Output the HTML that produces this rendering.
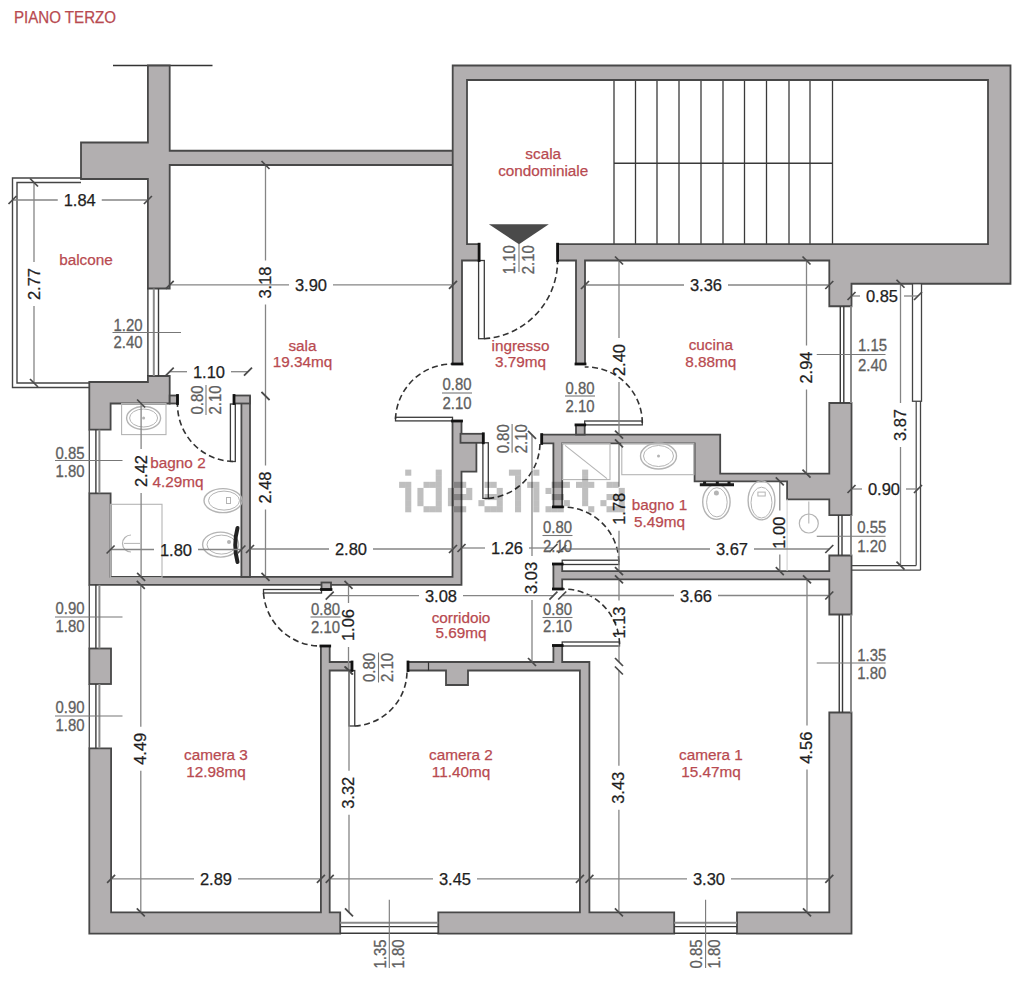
<!DOCTYPE html>
<html><head><meta charset="utf-8"><style>
html,body{margin:0;padding:0;background:#fff;width:1024px;height:982px;overflow:hidden;position:relative}
svg text{font-family:"Liberation Sans",sans-serif}
</style></head><body>
<svg width="1024" height="982" viewBox="0 0 1024 982" style="position:absolute;left:0;top:0">
<rect width="1024" height="982" fill="#fff"/>
<line x1="614" y1="80" x2="614" y2="244.2" stroke="#3a3a3a" stroke-width="1.3" />
<line x1="635.5" y1="80" x2="635.5" y2="244.2" stroke="#3a3a3a" stroke-width="1.3" />
<line x1="657" y1="80" x2="657" y2="244.2" stroke="#3a3a3a" stroke-width="1.3" />
<line x1="679" y1="80" x2="679" y2="244.2" stroke="#3a3a3a" stroke-width="1.3" />
<line x1="701" y1="80" x2="701" y2="244.2" stroke="#3a3a3a" stroke-width="1.3" />
<line x1="723" y1="80" x2="723" y2="244.2" stroke="#3a3a3a" stroke-width="1.3" />
<line x1="744.5" y1="80" x2="744.5" y2="244.2" stroke="#3a3a3a" stroke-width="1.3" />
<line x1="766.5" y1="80" x2="766.5" y2="244.2" stroke="#3a3a3a" stroke-width="1.3" />
<line x1="789" y1="80" x2="789" y2="244.2" stroke="#3a3a3a" stroke-width="1.3" />
<line x1="810" y1="80" x2="810" y2="244.2" stroke="#3a3a3a" stroke-width="1.3" />
<line x1="832.5" y1="80" x2="832.5" y2="244.2" stroke="#3a3a3a" stroke-width="1.3" />
<line x1="614" y1="163.25" x2="832.5" y2="163.25" stroke="#3a3a3a" stroke-width="1.3" />
<line x1="113" y1="65.5" x2="212.5" y2="65.5" stroke="#333" stroke-width="1.6" />
<polygon points="147.9,65.5 169.7,65.5 169.7,150.75 453,150.75 453,165 169.7,165 169.7,288.5 147.9,288.5 147.9,179 81,179 81,142.5 147.9,142.5" fill="#b2afb0" stroke="#484848" stroke-width="1.8" stroke-linejoin="miter"/>
<polygon points="452.7,65.5 1010.5,65.5 1010.5,283.75 851.5,283.75 851.5,306.25 829.3,306.25 829.3,260.5 585,260.5 585,364 576,364 576,260.5 557.6,260.5 557.6,244.2 988,244.2 988,80 467,80 467,244.2 479.1,244.2 479.1,260.5 462,260.5 462,364 452.7,364" fill="#b2afb0" stroke="#484848" stroke-width="1.8" stroke-linejoin="miter"/>
<polygon points="89.3,382 147.9,382 147.9,376 169.7,376 169.7,403.5 110.6,403.5 110.6,429.7 89.3,429.7" fill="#b2afb0" stroke="#484848" stroke-width="1.8" stroke-linejoin="miter"/>
<rect x="169.7" y="395.5" width="7.80" height="8.00" fill="#b2afb0" stroke="#484848" stroke-width="1.8"/>
<polygon points="452.5,421 461.5,421 461.5,441.8 476.4,441.8 476.4,471.6 461.5,471.6 461.5,584.8 89.3,584.8 89.3,493.3 110.6,493.3 110.6,576.9 452.5,576.9" fill="#b2afb0" stroke="#484848" stroke-width="1.8" stroke-linejoin="miter"/>
<rect x="241.4" y="396.7" width="8.60" height="180.20" fill="#b2afb0" stroke="#484848" stroke-width="1.8"/>
<rect x="234" y="395.5" width="16.00" height="8.00" fill="#b2afb0" stroke="#484848" stroke-width="1.8"/>
<rect x="460.5" y="433.8" width="22.80" height="9.00" fill="#b2afb0" stroke="#484848" stroke-width="1.8"/>
<polygon points="541.7,434.6 720.2,434.6 720.2,473.6 829.3,473.6 829.3,403 851.5,403 851.5,515.2 829.3,515.2 829.3,499.3 787.1,499.3 787.1,481.3 694.6,481.3 694.6,443.4 562.2,443.4 562.2,506.9 553.4,506.9 553.4,443.4 541.7,443.4" fill="#b2afb0" stroke="#484848" stroke-width="1.8" stroke-linejoin="miter"/>
<rect x="576" y="424.9" width="8.70" height="9.70" fill="#b2afb0" stroke="#484848" stroke-width="1.8"/>
<polygon points="553.4,564 562.2,564 562.2,571.1 829.3,571.1 829.3,555.5 851.5,555.5 851.5,614.5 829.3,614.5 829.3,579.4 562.2,579.4 562.2,589 553.4,589" fill="#b2afb0" stroke="#484848" stroke-width="1.8" stroke-linejoin="miter"/>
<polygon points="408,662 553.4,662 553.4,645.5 562.2,645.5 562.2,662 589.4,662 589.4,912.3 674.2,912.3 674.2,933.6 438.3,933.6 438.3,912.3 579.9,912.3 579.9,670.5 468,670.5 468,685 446,685 446,670.5 408,670.5" fill="#b2afb0" stroke="#484848" stroke-width="1.8" stroke-linejoin="miter"/>
<line x1="428.5" y1="662" x2="428.5" y2="670.5" stroke="#333" stroke-width="1.2" />
<rect x="321.5" y="582.5" width="9.50" height="7.00" fill="#b2afb0" stroke="#484848" stroke-width="1.8"/>
<polygon points="89.3,748.3 111.1,748.3 111.1,912.3 320.9,912.3 320.9,646 329.7,646 329.7,662 352,662 352,670.5 329.7,670.5 329.7,912.3 340.2,912.3 340.2,933.6 89.3,933.6" fill="#b2afb0" stroke="#484848" stroke-width="1.8" stroke-linejoin="miter"/>
<rect x="89.3" y="648.5" width="21.70" height="35.50" fill="#b2afb0" stroke="#484848" stroke-width="1.8"/>
<polygon points="829.3,712.5 851.5,712.5 851.5,933.6 737,933.6 737,912.3 829.3,912.3" fill="#b2afb0" stroke="#484848" stroke-width="1.8" stroke-linejoin="miter"/>
<line x1="147.9" y1="288.5" x2="147.9" y2="376" stroke="#3a3a3a" stroke-width="1.4" />
<line x1="153.8" y1="288.5" x2="153.8" y2="376" stroke="#8a8a8a" stroke-width="2.0" />
<line x1="158.5" y1="288.5" x2="158.5" y2="376" stroke="#3a3a3a" stroke-width="1.4" />
<line x1="89.3" y1="429.7" x2="89.3" y2="493.3" stroke="#555" stroke-width="1.4" />
<line x1="95.9" y1="429.7" x2="95.9" y2="493.3" stroke="#3a3a3a" stroke-width="1.4" />
<line x1="99.4" y1="429.7" x2="99.4" y2="493.3" stroke="#8a8a8a" stroke-width="2.0" />
<line x1="89.3" y1="584.8" x2="89.3" y2="648.5" stroke="#555" stroke-width="1.4" />
<line x1="95.9" y1="584.8" x2="95.9" y2="648.5" stroke="#3a3a3a" stroke-width="1.4" />
<line x1="99.4" y1="584.8" x2="99.4" y2="648.5" stroke="#8a8a8a" stroke-width="2.0" />
<line x1="89.3" y1="684" x2="89.3" y2="748.3" stroke="#555" stroke-width="1.4" />
<line x1="95.9" y1="684" x2="95.9" y2="748.3" stroke="#3a3a3a" stroke-width="1.4" />
<line x1="99.4" y1="684" x2="99.4" y2="748.3" stroke="#8a8a8a" stroke-width="2.0" />
<line x1="851" y1="306.25" x2="851" y2="403" stroke="#8a8a8a" stroke-width="2.0" />
<line x1="843.8" y1="306.25" x2="843.8" y2="403" stroke="#3a3a3a" stroke-width="1.4" />
<line x1="840.3" y1="306.25" x2="840.3" y2="403" stroke="#3a3a3a" stroke-width="1.4" />
<line x1="851" y1="515.2" x2="851" y2="555.5" stroke="#8a8a8a" stroke-width="2.0" />
<line x1="842" y1="515.2" x2="842" y2="555.5" stroke="#3a3a3a" stroke-width="1.4" />
<line x1="838.5" y1="515.2" x2="838.5" y2="555.5" stroke="#3a3a3a" stroke-width="1.4" />
<line x1="851" y1="614.5" x2="851" y2="712.5" stroke="#8a8a8a" stroke-width="2.0" />
<line x1="842.5" y1="614.5" x2="842.5" y2="712.5" stroke="#3a3a3a" stroke-width="1.4" />
<line x1="839.25" y1="614.5" x2="839.25" y2="712.5" stroke="#3a3a3a" stroke-width="1.4" />
<line x1="340.2" y1="933.3" x2="438.3" y2="933.3" stroke="#3a3a3a" stroke-width="1.4" />
<line x1="340.2" y1="926.6" x2="438.3" y2="926.6" stroke="#3a3a3a" stroke-width="1.4" />
<line x1="340.2" y1="922.8" x2="438.3" y2="922.8" stroke="#8a8a8a" stroke-width="2.0" />
<line x1="674.2" y1="933.3" x2="737" y2="933.3" stroke="#3a3a3a" stroke-width="1.4" />
<line x1="674.2" y1="926.6" x2="737" y2="926.6" stroke="#3a3a3a" stroke-width="1.4" />
<line x1="674.2" y1="922.8" x2="737" y2="922.8" stroke="#8a8a8a" stroke-width="2.0" />
<polyline points="81,178 12.5,178 12.5,387.5 89.3,387.5" fill="none" stroke="#444" stroke-width="1.4"/>
<polyline points="81,182.5 17,182.5 17,383 89.3,383" fill="none" stroke="#444" stroke-width="1.4"/>
<rect x="912.5" y="283.75" width="9.00" height="117.50" fill="#fff" stroke="#444" stroke-width="1.3"/>
<line x1="916.2" y1="401.25" x2="916.2" y2="565.6" stroke="#444" stroke-width="1.2" />
<line x1="920.5" y1="401.25" x2="920.5" y2="570.2" stroke="#444" stroke-width="1.3" />
<line x1="851.5" y1="565.6" x2="916.2" y2="565.6" stroke="#444" stroke-width="1.2" />
<line x1="851.5" y1="570.2" x2="920.5" y2="570.2" stroke="#444" stroke-width="1.3" />
<polygon points="488.9,224.3 548.8,224.3 519,244.2" fill="#4a4a4a"/>
<rect x="478.6" y="260.5" width="5.70" height="78.20" fill="#fff" stroke="#3a3a3a" stroke-width="1.3"/>
<path d="M484.3,338.7 A78.5,78.5 0 0 0 557.6,260.5" fill="none" stroke="#333" stroke-width="1.6" stroke-dasharray="6,3.5"/>
<rect x="395.5" y="417.3" width="57.00" height="3.60" fill="#fff" stroke="#3a3a3a" stroke-width="1.3"/>
<path d="M395.5,419 A57,57 0 0 1 452.5,364" fill="none" stroke="#333" stroke-width="1.6" stroke-dasharray="6,3.5"/>
<rect x="584.7" y="421" width="57.60" height="3.90" fill="#fff" stroke="#3a3a3a" stroke-width="1.3"/>
<path d="M642.3,423 A56,56 0 0 0 584.7,367" fill="none" stroke="#333" stroke-width="1.6" stroke-dasharray="6,3.5"/>
<rect x="482.9" y="442.8" width="5.40" height="55.60" fill="#fff" stroke="#3a3a3a" stroke-width="1.3"/>
<path d="M488.3,498.4 A56,56 0 0 0 540,442.8" fill="none" stroke="#333" stroke-width="1.6" stroke-dasharray="6,3.5"/>
<rect x="230.4" y="404" width="4.90" height="57.50" fill="#fff" stroke="#3a3a3a" stroke-width="1.3"/>
<path d="M233,461.5 A57,57 0 0 1 177.5,404" fill="none" stroke="#333" stroke-width="1.6" stroke-dasharray="6,3.5"/>
<rect x="562.2" y="560.2" width="56.70" height="4.30" fill="#fff" stroke="#3a3a3a" stroke-width="1.3"/>
<path d="M618.9,562 A56,56 0 0 0 562.2,507" fill="none" stroke="#333" stroke-width="1.6" stroke-dasharray="6,3.5"/>
<rect x="562.2" y="642" width="57.30" height="4.00" fill="#fff" stroke="#3a3a3a" stroke-width="1.3"/>
<path d="M619.5,644 A56,56 0 0 0 562.2,589" fill="none" stroke="#333" stroke-width="1.6" stroke-dasharray="6,3.5"/>
<rect x="263.5" y="589.5" width="58.00" height="3.50" fill="#fff" stroke="#3a3a3a" stroke-width="1.3"/>
<path d="M263.5,593 A57,57 0 0 0 321.5,646" fill="none" stroke="#333" stroke-width="1.6" stroke-dasharray="6,3.5"/>
<rect x="349" y="670.5" width="5.75" height="55.50" fill="#fff" stroke="#3a3a3a" stroke-width="1.3"/>
<path d="M354.75,726 A55,55 0 0 0 407,670.5" fill="none" stroke="#333" stroke-width="1.6" stroke-dasharray="6,3.5"/>
<path d="M479.1,244.2 L479.1,260.5" stroke="#111" stroke-width="2.8" stroke-linecap="square"/>
<path d="M557.6,244.2 L557.6,260.5" stroke="#111" stroke-width="2.8" stroke-linecap="square"/>
<path d="M452.7,364 L462,364" stroke="#111" stroke-width="2.8" stroke-linecap="square"/>
<path d="M452.5,421 L461.5,421" stroke="#111" stroke-width="2.8" stroke-linecap="square"/>
<path d="M576,364 L585,364" stroke="#111" stroke-width="2.8" stroke-linecap="square"/>
<path d="M576,424.9 L584.7,424.9" stroke="#111" stroke-width="2.8" stroke-linecap="square"/>
<path d="M483.3,433.8 L483.3,442.8" stroke="#111" stroke-width="2.8" stroke-linecap="square"/>
<path d="M541.7,434.6 L541.7,443.4" stroke="#111" stroke-width="2.8" stroke-linecap="square"/>
<path d="M177.5,395.5 L177.5,403.5" stroke="#111" stroke-width="2.8" stroke-linecap="square"/>
<path d="M234,395.5 L234,403.5" stroke="#111" stroke-width="2.8" stroke-linecap="square"/>
<path d="M553.4,506.9 L562.2,506.9" stroke="#111" stroke-width="2.8" stroke-linecap="square"/>
<path d="M553.4,564 L562.2,564" stroke="#111" stroke-width="2.8" stroke-linecap="square"/>
<path d="M553.4,589 L562.2,589" stroke="#111" stroke-width="2.8" stroke-linecap="square"/>
<path d="M553.4,645.5 L562.2,645.5" stroke="#111" stroke-width="2.8" stroke-linecap="square"/>
<path d="M321.5,589.5 L331,589.5" stroke="#111" stroke-width="2.8" stroke-linecap="square"/>
<path d="M320.9,646 L329.7,646" stroke="#111" stroke-width="2.8" stroke-linecap="square"/>
<path d="M352,662 L352,670.5" stroke="#111" stroke-width="2.8" stroke-linecap="square"/>
<path d="M408,662 L408,670.5" stroke="#111" stroke-width="2.8" stroke-linecap="square"/>
<rect x="121.6" y="403.5" width="44.40" height="31.10" fill="none" stroke="#b4b4b4" stroke-width="1.1"/>
<ellipse cx="143.6" cy="418" rx="17" ry="11.5" fill="none" stroke="#b4b4b4" stroke-width="1.4"/>
<ellipse cx="143.6" cy="418" rx="14" ry="9" fill="none" stroke="#b4b4b4" stroke-width="1.0"/>
<circle cx="143.6" cy="418" r="1.5" fill="#b4b4b4"/>
<rect x="110.6" y="504.3" width="51.40" height="73.40" fill="none" stroke="#b4b4b4" stroke-width="1.1"/>
<path d="M131,535 A8.5,8.5 0 1 0 131,552" fill="none" stroke="#b4b4b4" stroke-width="1.2"/>
<line x1="124" y1="543.4" x2="140" y2="543.4" stroke="#b4b4b4" stroke-width="1.0" />
<ellipse cx="223" cy="500.6" rx="19" ry="12" fill="none" stroke="#b4b4b4" stroke-width="1.4"/>
<ellipse cx="224" cy="500.6" rx="15.5" ry="9.5" fill="none" stroke="#b4b4b4" stroke-width="1.0"/>
<rect x="226.5" y="497.5" width="4.00" height="6.00" fill="none" stroke="#b4b4b4" stroke-width="1.0"/>
<ellipse cx="220.6" cy="544.6" rx="18" ry="12.5" fill="none" stroke="#b4b4b4" stroke-width="1.4"/>
<ellipse cx="221.5" cy="544.6" rx="14.5" ry="9.5" fill="none" stroke="#b4b4b4" stroke-width="1.0"/>
<circle cx="229" cy="542" r="2" fill="#b4b4b4"/>
<path d="M237.5,528 Q233,545 237.5,562" fill="none" stroke="#222" stroke-width="4" stroke-linecap="round"/>
<rect x="562.2" y="443.4" width="47.80" height="36.20" fill="none" stroke="#b4b4b4" stroke-width="1.1"/>
<line x1="565" y1="445.4" x2="607" y2="478.6" stroke="#b4b4b4" stroke-width="1.1" />
<rect x="621.8" y="443.4" width="72.20" height="31.30" fill="none" stroke="#b4b4b4" stroke-width="1.1"/>
<ellipse cx="658.5" cy="456" rx="18" ry="13" fill="none" stroke="#b4b4b4" stroke-width="1.4"/>
<ellipse cx="658.5" cy="456" rx="15" ry="10.5" fill="none" stroke="#b4b4b4" stroke-width="1.0"/>
<circle cx="658.5" cy="456" r="1.5" fill="#b4b4b4"/>
<ellipse cx="716.4" cy="501.9" rx="13.7" ry="17.5" fill="none" stroke="#b4b4b4" stroke-width="1.4"/>
<ellipse cx="716.9" cy="502.3" rx="10.3" ry="14.6" fill="none" stroke="#b4b4b4" stroke-width="1.0"/>
<circle cx="716.4" cy="493" r="2.5" fill="#b4b4b4"/>
<ellipse cx="761.5" cy="500.4" rx="13.4" ry="19.5" fill="none" stroke="#b4b4b4" stroke-width="1.4"/>
<ellipse cx="761.5" cy="502.6" rx="10.5" ry="15.4" fill="none" stroke="#b4b4b4" stroke-width="1.0"/>
<rect x="757.9" y="492.1" width="7.30" height="3.90" fill="none" stroke="#b4b4b4" stroke-width="1.0"/>
<path d="M699.8,484.8 L734,484.8 M704.6,484.8 L704.6,481.5 M717.3,484.8 L717.3,481.5 M729,484.8 L729,481.5" fill="none" stroke="#1a1a1a" stroke-width="3"/>
<line x1="787.1" y1="499.3" x2="787.1" y2="571.1" stroke="#cfcfcf" stroke-width="1.1" />
<circle cx="808.8" cy="523.5" r="9.5" fill="none" stroke="#b4b4b4" stroke-width="1.2"/>
<line x1="808.8" y1="501.5" x2="808.8" y2="523.5" stroke="#b4b4b4" stroke-width="1.1" />
<line x1="12.5" y1="200" x2="57.75" y2="200" stroke="#858585" stroke-width="1.3" />
<line x1="101.75" y1="200" x2="147.9" y2="200" stroke="#858585" stroke-width="1.3" />
<line x1="8.5" y1="204" x2="16.5" y2="196" stroke="#4a4a4a" stroke-width="1.7" />
<line x1="143.9" y1="204" x2="151.9" y2="196" stroke="#4a4a4a" stroke-width="1.7" />
<text x="79.75" y="200.3" font-size="16.5" fill="#1e1e1e" text-anchor="middle" dominant-baseline="central" stroke="#1e1e1e" stroke-width="0.25">1.84</text>
<line x1="169.7" y1="284.8" x2="289" y2="284.8" stroke="#858585" stroke-width="1.3" />
<line x1="333" y1="284.8" x2="453" y2="284.8" stroke="#858585" stroke-width="1.3" />
<line x1="165.7" y1="288.8" x2="173.7" y2="280.8" stroke="#4a4a4a" stroke-width="1.7" />
<line x1="449" y1="288.8" x2="457" y2="280.8" stroke="#4a4a4a" stroke-width="1.7" />
<text x="311" y="285.1" font-size="16.5" fill="#1e1e1e" text-anchor="middle" dominant-baseline="central" stroke="#1e1e1e" stroke-width="0.25">3.90</text>
<line x1="585" y1="285" x2="684" y2="285" stroke="#858585" stroke-width="1.3" />
<line x1="728" y1="285" x2="829.3" y2="285" stroke="#858585" stroke-width="1.3" />
<line x1="581" y1="289" x2="589" y2="281" stroke="#4a4a4a" stroke-width="1.7" />
<line x1="825.3" y1="289" x2="833.3" y2="281" stroke="#4a4a4a" stroke-width="1.7" />
<text x="706" y="285.3" font-size="16.5" fill="#1e1e1e" text-anchor="middle" dominant-baseline="central" stroke="#1e1e1e" stroke-width="0.25">3.36</text>
<line x1="851.5" y1="296" x2="860" y2="296" stroke="#858585" stroke-width="1.3" />
<line x1="904" y1="296" x2="918" y2="296" stroke="#858585" stroke-width="1.3" />
<line x1="847.5" y1="300" x2="855.5" y2="292" stroke="#4a4a4a" stroke-width="1.7" />
<line x1="914" y1="300" x2="922" y2="292" stroke="#4a4a4a" stroke-width="1.7" />
<text x="882" y="296.3" font-size="16.5" fill="#1e1e1e" text-anchor="middle" dominant-baseline="central" stroke="#1e1e1e" stroke-width="0.25">0.85</text>
<line x1="169.7" y1="371.7" x2="187" y2="371.7" stroke="#858585" stroke-width="1.3" />
<line x1="231" y1="371.7" x2="248" y2="371.7" stroke="#858585" stroke-width="1.3" />
<line x1="165.7" y1="375.7" x2="173.7" y2="367.7" stroke="#4a4a4a" stroke-width="1.7" />
<line x1="244" y1="375.7" x2="252" y2="367.7" stroke="#4a4a4a" stroke-width="1.7" />
<text x="209" y="372.0" font-size="16.5" fill="#1e1e1e" text-anchor="middle" dominant-baseline="central" stroke="#1e1e1e" stroke-width="0.25">1.10</text>
<line x1="110.6" y1="549.5" x2="154" y2="549.5" stroke="#858585" stroke-width="1.3" />
<line x1="198" y1="549.5" x2="241.4" y2="549.5" stroke="#858585" stroke-width="1.3" />
<line x1="106.6" y1="553.5" x2="114.6" y2="545.5" stroke="#4a4a4a" stroke-width="1.7" />
<line x1="237.4" y1="553.5" x2="245.4" y2="545.5" stroke="#4a4a4a" stroke-width="1.7" />
<text x="176" y="549.8" font-size="16.5" fill="#1e1e1e" text-anchor="middle" dominant-baseline="central" stroke="#1e1e1e" stroke-width="0.25">1.80</text>
<line x1="250" y1="549" x2="329" y2="549" stroke="#858585" stroke-width="1.3" />
<line x1="373" y1="549" x2="453" y2="549" stroke="#858585" stroke-width="1.3" />
<line x1="246" y1="553" x2="254" y2="545" stroke="#4a4a4a" stroke-width="1.7" />
<line x1="449" y1="553" x2="457" y2="545" stroke="#4a4a4a" stroke-width="1.7" />
<text x="351" y="549.3" font-size="16.5" fill="#1e1e1e" text-anchor="middle" dominant-baseline="central" stroke="#1e1e1e" stroke-width="0.25">2.80</text>
<line x1="461.5" y1="548" x2="485" y2="548" stroke="#858585" stroke-width="1.3" />
<line x1="529" y1="548" x2="553.4" y2="548" stroke="#858585" stroke-width="1.3" />
<line x1="457.5" y1="552" x2="465.5" y2="544" stroke="#4a4a4a" stroke-width="1.7" />
<line x1="549.4" y1="552" x2="557.4" y2="544" stroke="#4a4a4a" stroke-width="1.7" />
<text x="507" y="548.3" font-size="16.5" fill="#1e1e1e" text-anchor="middle" dominant-baseline="central" stroke="#1e1e1e" stroke-width="0.25">1.26</text>
<line x1="562.2" y1="549" x2="710" y2="549" stroke="#858585" stroke-width="1.3" />
<line x1="754" y1="549" x2="829.3" y2="549" stroke="#858585" stroke-width="1.3" />
<line x1="558.2" y1="553" x2="566.2" y2="545" stroke="#4a4a4a" stroke-width="1.7" />
<line x1="825.3" y1="553" x2="833.3" y2="545" stroke="#4a4a4a" stroke-width="1.7" />
<text x="732" y="549.3" font-size="16.5" fill="#1e1e1e" text-anchor="middle" dominant-baseline="central" stroke="#1e1e1e" stroke-width="0.25">3.67</text>
<line x1="851.5" y1="489" x2="862" y2="489" stroke="#858585" stroke-width="1.3" />
<line x1="906" y1="489" x2="918" y2="489" stroke="#858585" stroke-width="1.3" />
<line x1="847.5" y1="493" x2="855.5" y2="485" stroke="#4a4a4a" stroke-width="1.7" />
<line x1="914" y1="493" x2="922" y2="485" stroke="#4a4a4a" stroke-width="1.7" />
<text x="884" y="489.3" font-size="16.5" fill="#1e1e1e" text-anchor="middle" dominant-baseline="central" stroke="#1e1e1e" stroke-width="0.25">0.90</text>
<line x1="329.7" y1="595.7" x2="419" y2="595.7" stroke="#858585" stroke-width="1.3" />
<line x1="463" y1="595.7" x2="553.4" y2="595.7" stroke="#858585" stroke-width="1.3" />
<line x1="325.7" y1="599.7" x2="333.7" y2="591.7" stroke="#4a4a4a" stroke-width="1.7" />
<line x1="549.4" y1="599.7" x2="557.4" y2="591.7" stroke="#4a4a4a" stroke-width="1.7" />
<text x="441" y="596.0" font-size="16.5" fill="#1e1e1e" text-anchor="middle" dominant-baseline="central" stroke="#1e1e1e" stroke-width="0.25">3.08</text>
<line x1="562.2" y1="595.5" x2="674" y2="595.5" stroke="#858585" stroke-width="1.3" />
<line x1="718" y1="595.5" x2="829.3" y2="595.5" stroke="#858585" stroke-width="1.3" />
<line x1="558.2" y1="599.5" x2="566.2" y2="591.5" stroke="#4a4a4a" stroke-width="1.7" />
<line x1="825.3" y1="599.5" x2="833.3" y2="591.5" stroke="#4a4a4a" stroke-width="1.7" />
<text x="696" y="595.8" font-size="16.5" fill="#1e1e1e" text-anchor="middle" dominant-baseline="central" stroke="#1e1e1e" stroke-width="0.25">3.66</text>
<line x1="111.1" y1="878.8" x2="194" y2="878.8" stroke="#858585" stroke-width="1.3" />
<line x1="238" y1="878.8" x2="320.9" y2="878.8" stroke="#858585" stroke-width="1.3" />
<line x1="107.1" y1="882.8" x2="115.1" y2="874.8" stroke="#4a4a4a" stroke-width="1.7" />
<line x1="316.9" y1="882.8" x2="324.9" y2="874.8" stroke="#4a4a4a" stroke-width="1.7" />
<text x="216" y="879.0999999999999" font-size="16.5" fill="#1e1e1e" text-anchor="middle" dominant-baseline="central" stroke="#1e1e1e" stroke-width="0.25">2.89</text>
<line x1="329.7" y1="878.8" x2="433" y2="878.8" stroke="#858585" stroke-width="1.3" />
<line x1="477" y1="878.8" x2="579.9" y2="878.8" stroke="#858585" stroke-width="1.3" />
<line x1="325.7" y1="882.8" x2="333.7" y2="874.8" stroke="#4a4a4a" stroke-width="1.7" />
<line x1="575.9" y1="882.8" x2="583.9" y2="874.8" stroke="#4a4a4a" stroke-width="1.7" />
<text x="455" y="879.0999999999999" font-size="16.5" fill="#1e1e1e" text-anchor="middle" dominant-baseline="central" stroke="#1e1e1e" stroke-width="0.25">3.45</text>
<line x1="589.4" y1="878.8" x2="687" y2="878.8" stroke="#858585" stroke-width="1.3" />
<line x1="731" y1="878.8" x2="829.3" y2="878.8" stroke="#858585" stroke-width="1.3" />
<line x1="585.4" y1="882.8" x2="593.4" y2="874.8" stroke="#4a4a4a" stroke-width="1.7" />
<line x1="825.3" y1="882.8" x2="833.3" y2="874.8" stroke="#4a4a4a" stroke-width="1.7" />
<text x="709" y="879.0999999999999" font-size="16.5" fill="#1e1e1e" text-anchor="middle" dominant-baseline="central" stroke="#1e1e1e" stroke-width="0.25">3.30</text>
<line x1="34" y1="182.5" x2="34" y2="262" stroke="#858585" stroke-width="1.3" />
<line x1="34" y1="306" x2="34" y2="383" stroke="#858585" stroke-width="1.3" />
<line x1="30" y1="178.5" x2="38" y2="186.5" stroke="#4a4a4a" stroke-width="1.7" />
<line x1="30" y1="379" x2="38" y2="387" stroke="#4a4a4a" stroke-width="1.7" />
<text x="33.5" y="284" font-size="16.5" fill="#1e1e1e" text-anchor="middle" dominant-baseline="central" transform="rotate(-90 33.5 284)" stroke="#1e1e1e" stroke-width="0.25">2.77</text>
<line x1="265.5" y1="165" x2="265.5" y2="260.5" stroke="#858585" stroke-width="1.3" />
<line x1="265.5" y1="304.5" x2="265.5" y2="396" stroke="#858585" stroke-width="1.3" />
<line x1="261.5" y1="161" x2="269.5" y2="169" stroke="#4a4a4a" stroke-width="1.7" />
<line x1="261.5" y1="392" x2="269.5" y2="400" stroke="#4a4a4a" stroke-width="1.7" />
<text x="265.0" y="282.5" font-size="16.5" fill="#1e1e1e" text-anchor="middle" dominant-baseline="central" transform="rotate(-90 265.0 282.5)" stroke="#1e1e1e" stroke-width="0.25">3.18</text>
<line x1="265.5" y1="396" x2="265.5" y2="465.5" stroke="#858585" stroke-width="1.3" />
<line x1="265.5" y1="509.5" x2="265.5" y2="576.9" stroke="#858585" stroke-width="1.3" />
<line x1="261.5" y1="392" x2="269.5" y2="400" stroke="#4a4a4a" stroke-width="1.7" />
<line x1="261.5" y1="572.9" x2="269.5" y2="580.9" stroke="#4a4a4a" stroke-width="1.7" />
<text x="265.0" y="487.5" font-size="16.5" fill="#1e1e1e" text-anchor="middle" dominant-baseline="central" transform="rotate(-90 265.0 487.5)" stroke="#1e1e1e" stroke-width="0.25">2.48</text>
<line x1="141.1" y1="403.5" x2="141.1" y2="449" stroke="#858585" stroke-width="1.3" />
<line x1="141.1" y1="493" x2="141.1" y2="576.9" stroke="#858585" stroke-width="1.3" />
<line x1="137.1" y1="399.5" x2="145.1" y2="407.5" stroke="#4a4a4a" stroke-width="1.7" />
<line x1="137.1" y1="572.9" x2="145.1" y2="580.9" stroke="#4a4a4a" stroke-width="1.7" />
<text x="140.6" y="471" font-size="16.5" fill="#1e1e1e" text-anchor="middle" dominant-baseline="central" transform="rotate(-90 140.6 471)" stroke="#1e1e1e" stroke-width="0.25">2.42</text>
<line x1="619" y1="260.5" x2="619" y2="338" stroke="#858585" stroke-width="1.3" />
<line x1="619" y1="382" x2="619" y2="434.6" stroke="#858585" stroke-width="1.3" />
<line x1="615" y1="256.5" x2="623" y2="264.5" stroke="#4a4a4a" stroke-width="1.7" />
<line x1="615" y1="430.6" x2="623" y2="438.6" stroke="#4a4a4a" stroke-width="1.7" />
<text x="618.5" y="360" font-size="16.5" fill="#1e1e1e" text-anchor="middle" dominant-baseline="central" transform="rotate(-90 618.5 360)" stroke="#1e1e1e" stroke-width="0.25">2.40</text>
<line x1="806.5" y1="260.5" x2="806.5" y2="345.5" stroke="#858585" stroke-width="1.3" />
<line x1="806.5" y1="389.5" x2="806.5" y2="473.6" stroke="#858585" stroke-width="1.3" />
<line x1="802.5" y1="256.5" x2="810.5" y2="264.5" stroke="#4a4a4a" stroke-width="1.7" />
<line x1="802.5" y1="469.6" x2="810.5" y2="477.6" stroke="#4a4a4a" stroke-width="1.7" />
<text x="806.0" y="367.5" font-size="16.5" fill="#1e1e1e" text-anchor="middle" dominant-baseline="central" transform="rotate(-90 806.0 367.5)" stroke="#1e1e1e" stroke-width="0.25">2.94</text>
<line x1="900.5" y1="283.75" x2="900.5" y2="403" stroke="#858585" stroke-width="1.3" />
<line x1="900.5" y1="447" x2="900.5" y2="565.6" stroke="#858585" stroke-width="1.3" />
<line x1="896.5" y1="279.75" x2="904.5" y2="287.75" stroke="#4a4a4a" stroke-width="1.7" />
<line x1="896.5" y1="561.6" x2="904.5" y2="569.6" stroke="#4a4a4a" stroke-width="1.7" />
<text x="900.0" y="425" font-size="16.5" fill="#1e1e1e" text-anchor="middle" dominant-baseline="central" transform="rotate(-90 900.0 425)" stroke="#1e1e1e" stroke-width="0.25">3.87</text>
<line x1="619" y1="443.4" x2="619" y2="486.75" stroke="#858585" stroke-width="1.3" />
<line x1="619" y1="530.75" x2="619" y2="571.1" stroke="#858585" stroke-width="1.3" />
<line x1="615" y1="439.4" x2="623" y2="447.4" stroke="#4a4a4a" stroke-width="1.7" />
<line x1="615" y1="567.1" x2="623" y2="575.1" stroke="#4a4a4a" stroke-width="1.7" />
<text x="618.5" y="508.75" font-size="16.5" fill="#1e1e1e" text-anchor="middle" dominant-baseline="central" transform="rotate(-90 618.5 508.75)" stroke="#1e1e1e" stroke-width="0.25">1.78</text>
<line x1="779.8" y1="481.3" x2="779.8" y2="510.6" stroke="#858585" stroke-width="1.3" />
<line x1="779.8" y1="554.6" x2="779.8" y2="571.1" stroke="#858585" stroke-width="1.3" />
<line x1="775.8" y1="477.3" x2="783.8" y2="485.3" stroke="#4a4a4a" stroke-width="1.7" />
<line x1="775.8" y1="567.1" x2="783.8" y2="575.1" stroke="#4a4a4a" stroke-width="1.7" />
<text x="779.3" y="532.6" font-size="16.5" fill="#1e1e1e" text-anchor="middle" dominant-baseline="central" transform="rotate(-90 779.3 532.6)" stroke="#1e1e1e" stroke-width="0.25">1.00</text>
<line x1="532" y1="434.8" x2="532" y2="555.9" stroke="#858585" stroke-width="1.3" />
<line x1="532" y1="599.9" x2="532" y2="662" stroke="#858585" stroke-width="1.3" />
<line x1="528" y1="430.8" x2="536" y2="438.8" stroke="#4a4a4a" stroke-width="1.7" />
<line x1="528" y1="658" x2="536" y2="666" stroke="#4a4a4a" stroke-width="1.7" />
<text x="531.5" y="577.9" font-size="16.5" fill="#1e1e1e" text-anchor="middle" dominant-baseline="central" transform="rotate(-90 531.5 577.9)" stroke="#1e1e1e" stroke-width="0.25">3.03</text>
<line x1="348.5" y1="584.8" x2="348.5" y2="603" stroke="#858585" stroke-width="1.3" />
<line x1="348.5" y1="647" x2="348.5" y2="670.5" stroke="#858585" stroke-width="1.3" />
<line x1="344.5" y1="580.8" x2="352.5" y2="588.8" stroke="#4a4a4a" stroke-width="1.7" />
<line x1="344.5" y1="666.5" x2="352.5" y2="674.5" stroke="#4a4a4a" stroke-width="1.7" />
<text x="348.0" y="625" font-size="16.5" fill="#1e1e1e" text-anchor="middle" dominant-baseline="central" transform="rotate(-90 348.0 625)" stroke="#1e1e1e" stroke-width="0.25">1.06</text>
<line x1="619" y1="579.4" x2="619" y2="600.5" stroke="#858585" stroke-width="1.3" />
<line x1="619" y1="644.5" x2="619" y2="662" stroke="#858585" stroke-width="1.3" />
<line x1="615" y1="575.4" x2="623" y2="583.4" stroke="#4a4a4a" stroke-width="1.7" />
<line x1="615" y1="658" x2="623" y2="666" stroke="#4a4a4a" stroke-width="1.7" />
<text x="618.5" y="622.5" font-size="16.5" fill="#1e1e1e" text-anchor="middle" dominant-baseline="central" transform="rotate(-90 618.5 622.5)" stroke="#1e1e1e" stroke-width="0.25">1.13</text>
<line x1="140.8" y1="584.8" x2="140.8" y2="726.8" stroke="#858585" stroke-width="1.3" />
<line x1="140.8" y1="770.8" x2="140.8" y2="912.3" stroke="#858585" stroke-width="1.3" />
<line x1="136.8" y1="580.8" x2="144.8" y2="588.8" stroke="#4a4a4a" stroke-width="1.7" />
<line x1="136.8" y1="908.3" x2="144.8" y2="916.3" stroke="#4a4a4a" stroke-width="1.7" />
<text x="140.3" y="748.8" font-size="16.5" fill="#1e1e1e" text-anchor="middle" dominant-baseline="central" transform="rotate(-90 140.3 748.8)" stroke="#1e1e1e" stroke-width="0.25">4.49</text>
<line x1="349" y1="670.5" x2="349" y2="770.8" stroke="#858585" stroke-width="1.3" />
<line x1="349" y1="814.8" x2="349" y2="912.3" stroke="#858585" stroke-width="1.3" />
<line x1="345" y1="666.5" x2="353" y2="674.5" stroke="#4a4a4a" stroke-width="1.7" />
<line x1="345" y1="908.3" x2="353" y2="916.3" stroke="#4a4a4a" stroke-width="1.7" />
<text x="348.5" y="792.8" font-size="16.5" fill="#1e1e1e" text-anchor="middle" dominant-baseline="central" transform="rotate(-90 348.5 792.8)" stroke="#1e1e1e" stroke-width="0.25">3.32</text>
<line x1="618.9" y1="670.5" x2="618.9" y2="765.8" stroke="#858585" stroke-width="1.3" />
<line x1="618.9" y1="809.8" x2="618.9" y2="912.3" stroke="#858585" stroke-width="1.3" />
<line x1="614.9" y1="666.5" x2="622.9" y2="674.5" stroke="#4a4a4a" stroke-width="1.7" />
<line x1="614.9" y1="908.3" x2="622.9" y2="916.3" stroke="#4a4a4a" stroke-width="1.7" />
<text x="618.4" y="787.8" font-size="16.5" fill="#1e1e1e" text-anchor="middle" dominant-baseline="central" transform="rotate(-90 618.4 787.8)" stroke="#1e1e1e" stroke-width="0.25">3.43</text>
<line x1="807" y1="579.4" x2="807" y2="725.6" stroke="#858585" stroke-width="1.3" />
<line x1="807" y1="769.6" x2="807" y2="912.3" stroke="#858585" stroke-width="1.3" />
<line x1="803" y1="575.4" x2="811" y2="583.4" stroke="#4a4a4a" stroke-width="1.7" />
<line x1="803" y1="908.3" x2="811" y2="916.3" stroke="#4a4a4a" stroke-width="1.7" />
<text x="806.5" y="747.6" font-size="16.5" fill="#1e1e1e" text-anchor="middle" dominant-baseline="central" transform="rotate(-90 806.5 747.6)" stroke="#1e1e1e" stroke-width="0.25">4.56</text>
<text x="128" y="325" font-size="16" fill="#606060" text-anchor="middle" dominant-baseline="central" textLength="29" lengthAdjust="spacingAndGlyphs" stroke="#606060" stroke-width="0.3">1.20</text>
<line x1="112.5" y1="332.5" x2="181" y2="332.5" stroke="#777" stroke-width="1.1" />
<text x="128" y="342" font-size="16" fill="#606060" text-anchor="middle" dominant-baseline="central" textLength="29" lengthAdjust="spacingAndGlyphs" stroke="#606060" stroke-width="0.3">2.40</text>
<text x="70" y="453" font-size="16" fill="#606060" text-anchor="middle" dominant-baseline="central" textLength="29" lengthAdjust="spacingAndGlyphs" stroke="#606060" stroke-width="0.3">0.85</text>
<line x1="55" y1="460.5" x2="122.5" y2="460.5" stroke="#777" stroke-width="1.1" />
<text x="70" y="471" font-size="16" fill="#606060" text-anchor="middle" dominant-baseline="central" textLength="29" lengthAdjust="spacingAndGlyphs" stroke="#606060" stroke-width="0.3">1.80</text>
<text x="70" y="608.75" font-size="16" fill="#606060" text-anchor="middle" dominant-baseline="central" textLength="29" lengthAdjust="spacingAndGlyphs" stroke="#606060" stroke-width="0.3">0.90</text>
<line x1="55" y1="617" x2="122.5" y2="617" stroke="#777" stroke-width="1.1" />
<text x="70" y="626" font-size="16" fill="#606060" text-anchor="middle" dominant-baseline="central" textLength="29" lengthAdjust="spacingAndGlyphs" stroke="#606060" stroke-width="0.3">1.80</text>
<text x="70" y="707" font-size="16" fill="#606060" text-anchor="middle" dominant-baseline="central" textLength="29" lengthAdjust="spacingAndGlyphs" stroke="#606060" stroke-width="0.3">0.90</text>
<line x1="55" y1="716" x2="122.5" y2="716" stroke="#777" stroke-width="1.1" />
<text x="70" y="725" font-size="16" fill="#606060" text-anchor="middle" dominant-baseline="central" textLength="29" lengthAdjust="spacingAndGlyphs" stroke="#606060" stroke-width="0.3">1.80</text>
<text x="872.5" y="345" font-size="16" fill="#606060" text-anchor="middle" dominant-baseline="central" textLength="29" lengthAdjust="spacingAndGlyphs" stroke="#606060" stroke-width="0.3">1.15</text>
<line x1="816.75" y1="354.5" x2="885.5" y2="354.5" stroke="#777" stroke-width="1.1" />
<text x="872.5" y="365" font-size="16" fill="#606060" text-anchor="middle" dominant-baseline="central" textLength="29" lengthAdjust="spacingAndGlyphs" stroke="#606060" stroke-width="0.3">2.40</text>
<text x="871.75" y="527.5" font-size="16" fill="#606060" text-anchor="middle" dominant-baseline="central" textLength="29" lengthAdjust="spacingAndGlyphs" stroke="#606060" stroke-width="0.3">0.55</text>
<line x1="816.75" y1="536.25" x2="885.5" y2="536.25" stroke="#777" stroke-width="1.1" />
<text x="871.75" y="546" font-size="16" fill="#606060" text-anchor="middle" dominant-baseline="central" textLength="29" lengthAdjust="spacingAndGlyphs" stroke="#606060" stroke-width="0.3">1.20</text>
<text x="871.75" y="655" font-size="16" fill="#606060" text-anchor="middle" dominant-baseline="central" textLength="29" lengthAdjust="spacingAndGlyphs" stroke="#606060" stroke-width="0.3">1.35</text>
<line x1="816.75" y1="663" x2="885.5" y2="663" stroke="#777" stroke-width="1.1" />
<text x="871.75" y="673" font-size="16" fill="#606060" text-anchor="middle" dominant-baseline="central" textLength="29" lengthAdjust="spacingAndGlyphs" stroke="#606060" stroke-width="0.3">1.80</text>
<text x="380" y="954" font-size="16" fill="#606060" text-anchor="middle" dominant-baseline="central" transform="rotate(-90 380 954)" textLength="29" lengthAdjust="spacingAndGlyphs" stroke="#606060" stroke-width="0.3">1.35</text>
<line x1="389.3" y1="899.7" x2="389.3" y2="968" stroke="#777" stroke-width="1.1" />
<text x="398" y="954" font-size="16" fill="#606060" text-anchor="middle" dominant-baseline="central" transform="rotate(-90 398 954)" textLength="29" lengthAdjust="spacingAndGlyphs" stroke="#606060" stroke-width="0.3">1.80</text>
<text x="696.8" y="954" font-size="16" fill="#606060" text-anchor="middle" dominant-baseline="central" transform="rotate(-90 696.8 954)" textLength="29" lengthAdjust="spacingAndGlyphs" stroke="#606060" stroke-width="0.3">0.85</text>
<line x1="705.6" y1="899.7" x2="705.6" y2="968" stroke="#777" stroke-width="1.1" />
<text x="714.4" y="954" font-size="16" fill="#606060" text-anchor="middle" dominant-baseline="central" transform="rotate(-90 714.4 954)" textLength="29" lengthAdjust="spacingAndGlyphs" stroke="#606060" stroke-width="0.3">1.80</text>
<text x="457" y="384" font-size="16" fill="#606060" text-anchor="middle" dominant-baseline="central" textLength="29" lengthAdjust="spacingAndGlyphs" stroke="#606060" stroke-width="0.3">0.80</text>
<line x1="442" y1="393" x2="472" y2="393" stroke="#777" stroke-width="1.1" />
<text x="457" y="403" font-size="16" fill="#606060" text-anchor="middle" dominant-baseline="central" textLength="29" lengthAdjust="spacingAndGlyphs" stroke="#606060" stroke-width="0.3">2.10</text>
<text x="580" y="388.75" font-size="16" fill="#606060" text-anchor="middle" dominant-baseline="central" textLength="29" lengthAdjust="spacingAndGlyphs" stroke="#606060" stroke-width="0.3">0.80</text>
<line x1="565" y1="396" x2="595" y2="396" stroke="#777" stroke-width="1.1" />
<text x="580" y="406" font-size="16" fill="#606060" text-anchor="middle" dominant-baseline="central" textLength="29" lengthAdjust="spacingAndGlyphs" stroke="#606060" stroke-width="0.3">2.10</text>
<text x="510" y="259.7" font-size="16" fill="#606060" text-anchor="middle" dominant-baseline="central" transform="rotate(-90 510 259.7)" textLength="29" lengthAdjust="spacingAndGlyphs" stroke="#606060" stroke-width="0.3">1.10</text>
<line x1="519" y1="244" x2="519" y2="272" stroke="#777" stroke-width="1.1" />
<text x="528.8" y="259.7" font-size="16" fill="#606060" text-anchor="middle" dominant-baseline="central" transform="rotate(-90 528.8 259.7)" textLength="29" lengthAdjust="spacingAndGlyphs" stroke="#606060" stroke-width="0.3">2.10</text>
<text x="197.5" y="400" font-size="16" fill="#606060" text-anchor="middle" dominant-baseline="central" transform="rotate(-90 197.5 400)" textLength="29" lengthAdjust="spacingAndGlyphs" stroke="#606060" stroke-width="0.3">0.80</text>
<line x1="206" y1="385" x2="206" y2="415" stroke="#777" stroke-width="1.1" />
<text x="215" y="400" font-size="16" fill="#606060" text-anchor="middle" dominant-baseline="central" transform="rotate(-90 215 400)" textLength="29" lengthAdjust="spacingAndGlyphs" stroke="#606060" stroke-width="0.3">2.10</text>
<text x="503.2" y="438.8" font-size="16" fill="#606060" text-anchor="middle" dominant-baseline="central" transform="rotate(-90 503.2 438.8)" textLength="29" lengthAdjust="spacingAndGlyphs" stroke="#606060" stroke-width="0.3">0.80</text>
<line x1="512.1" y1="423.9" x2="512.1" y2="452.7" stroke="#777" stroke-width="1.1" />
<text x="521.5" y="438.8" font-size="16" fill="#606060" text-anchor="middle" dominant-baseline="central" transform="rotate(-90 521.5 438.8)" textLength="29" lengthAdjust="spacingAndGlyphs" stroke="#606060" stroke-width="0.3">2.10</text>
<text x="557.5" y="527.5" font-size="16" fill="#606060" text-anchor="middle" dominant-baseline="central" textLength="29" lengthAdjust="spacingAndGlyphs" stroke="#606060" stroke-width="0.3">0.80</text>
<line x1="542.5" y1="535.5" x2="572.5" y2="535.5" stroke="#777" stroke-width="1.1" />
<text x="557.5" y="546" font-size="16" fill="#606060" text-anchor="middle" dominant-baseline="central" textLength="29" lengthAdjust="spacingAndGlyphs" stroke="#606060" stroke-width="0.3">2.10</text>
<text x="325.5" y="609.5" font-size="16" fill="#606060" text-anchor="middle" dominant-baseline="central" textLength="29" lengthAdjust="spacingAndGlyphs" stroke="#606060" stroke-width="0.3">0.80</text>
<line x1="310.5" y1="617" x2="340.5" y2="617" stroke="#777" stroke-width="1.1" />
<text x="325.5" y="627" font-size="16" fill="#606060" text-anchor="middle" dominant-baseline="central" textLength="29" lengthAdjust="spacingAndGlyphs" stroke="#606060" stroke-width="0.3">2.10</text>
<text x="557.5" y="609.5" font-size="16" fill="#606060" text-anchor="middle" dominant-baseline="central" textLength="29" lengthAdjust="spacingAndGlyphs" stroke="#606060" stroke-width="0.3">0.80</text>
<line x1="542.5" y1="617.5" x2="572.5" y2="617.5" stroke="#777" stroke-width="1.1" />
<text x="557.5" y="626" font-size="16" fill="#606060" text-anchor="middle" dominant-baseline="central" textLength="29" lengthAdjust="spacingAndGlyphs" stroke="#606060" stroke-width="0.3">2.10</text>
<text x="369.75" y="667.5" font-size="16" fill="#606060" text-anchor="middle" dominant-baseline="central" transform="rotate(-90 369.75 667.5)" textLength="29" lengthAdjust="spacingAndGlyphs" stroke="#606060" stroke-width="0.3">0.80</text>
<line x1="378.5" y1="652.5" x2="378.5" y2="682.5" stroke="#777" stroke-width="1.1" />
<text x="387" y="667.5" font-size="16" fill="#606060" text-anchor="middle" dominant-baseline="central" transform="rotate(-90 387 667.5)" textLength="29" lengthAdjust="spacingAndGlyphs" stroke="#606060" stroke-width="0.3">2.10</text>
<text x="14" y="17.2" font-size="16" fill="#b84a50" text-anchor="start" dominant-baseline="central" stroke="#b84a50" stroke-width="0.25" textLength="102" lengthAdjust="spacingAndGlyphs">PIANO TERZO</text>
<text x="86" y="259.6" font-size="15.3" fill="#b84a50" text-anchor="middle" dominant-baseline="central" stroke="#b84a50" stroke-width="0.25">balcone</text>
<text x="302.5" y="345.1" font-size="15.3" fill="#b84a50" text-anchor="middle" dominant-baseline="central" stroke="#b84a50" stroke-width="0.25">sala</text>
<text x="302.5" y="361.3" font-size="15.3" fill="#b84a50" text-anchor="middle" dominant-baseline="central" stroke="#b84a50" stroke-width="0.25">19.34mq</text>
<text x="543.2" y="153.6" font-size="15.3" fill="#b84a50" text-anchor="middle" dominant-baseline="central" stroke="#b84a50" stroke-width="0.25">scala</text>
<text x="543.2" y="170.8" font-size="15.3" fill="#b84a50" text-anchor="middle" dominant-baseline="central" stroke="#b84a50" stroke-width="0.25">condominiale</text>
<text x="520.5" y="345.5" font-size="15.3" fill="#b84a50" text-anchor="middle" dominant-baseline="central" stroke="#b84a50" stroke-width="0.25">ingresso</text>
<text x="520.5" y="361.3" font-size="15.3" fill="#b84a50" text-anchor="middle" dominant-baseline="central" stroke="#b84a50" stroke-width="0.25">3.79mq</text>
<text x="710.8" y="344.7" font-size="15.3" fill="#b84a50" text-anchor="middle" dominant-baseline="central" stroke="#b84a50" stroke-width="0.25">cucina</text>
<text x="710.8" y="361.7" font-size="15.3" fill="#b84a50" text-anchor="middle" dominant-baseline="central" stroke="#b84a50" stroke-width="0.25">8.88mq</text>
<text x="178" y="462.5" font-size="15.3" fill="#b84a50" text-anchor="middle" dominant-baseline="central" stroke="#b84a50" stroke-width="0.25">bagno 2</text>
<text x="178" y="481" font-size="15.3" fill="#b84a50" text-anchor="middle" dominant-baseline="central" stroke="#b84a50" stroke-width="0.25">4.29mq</text>
<text x="659.5" y="504.5" font-size="15.3" fill="#b84a50" text-anchor="middle" dominant-baseline="central" stroke="#b84a50" stroke-width="0.25">bagno 1</text>
<text x="659.5" y="521.1" font-size="15.3" fill="#b84a50" text-anchor="middle" dominant-baseline="central" stroke="#b84a50" stroke-width="0.25">5.49mq</text>
<text x="461" y="617.1" font-size="15.3" fill="#b84a50" text-anchor="middle" dominant-baseline="central" stroke="#b84a50" stroke-width="0.25">corridoio</text>
<text x="461" y="632.4" font-size="15.3" fill="#b84a50" text-anchor="middle" dominant-baseline="central" stroke="#b84a50" stroke-width="0.25">5.69mq</text>
<text x="216" y="754.4" font-size="15.3" fill="#b84a50" text-anchor="middle" dominant-baseline="central" stroke="#b84a50" stroke-width="0.25">camera 3</text>
<text x="216" y="771.6" font-size="15.3" fill="#b84a50" text-anchor="middle" dominant-baseline="central" stroke="#b84a50" stroke-width="0.25">12.98mq</text>
<text x="461" y="754.4" font-size="15.3" fill="#b84a50" text-anchor="middle" dominant-baseline="central" stroke="#b84a50" stroke-width="0.25">camera 2</text>
<text x="461" y="771.6" font-size="15.3" fill="#b84a50" text-anchor="middle" dominant-baseline="central" stroke="#b84a50" stroke-width="0.25">11.40mq</text>
<text x="711" y="754.4" font-size="15.3" fill="#b84a50" text-anchor="middle" dominant-baseline="central" stroke="#b84a50" stroke-width="0.25">camera 1</text>
<text x="711" y="771.6" font-size="15.3" fill="#b84a50" text-anchor="middle" dominant-baseline="central" stroke="#b84a50" stroke-width="0.25">15.47mq</text>
<g fill="#000" fill-opacity="0.25"><rect x="405.2" y="469.6" width="6.1" height="6.1"/><rect x="399.1" y="481.8" width="6.1" height="6.1"/><rect x="405.2" y="481.8" width="6.1" height="6.1"/><rect x="405.2" y="487.9" width="6.1" height="6.1"/><rect x="405.2" y="494.0" width="6.1" height="6.1"/><rect x="405.2" y="500.1" width="6.1" height="6.1"/><rect x="405.2" y="506.2" width="6.1" height="6.1"/><rect x="435.7" y="469.6" width="6.1" height="6.1"/><rect x="435.7" y="475.7" width="6.1" height="6.1"/><rect x="423.5" y="481.8" width="6.1" height="6.1"/><rect x="429.6" y="481.8" width="6.1" height="6.1"/><rect x="435.7" y="481.8" width="6.1" height="6.1"/><rect x="417.4" y="487.9" width="6.1" height="6.1"/><rect x="435.7" y="487.9" width="6.1" height="6.1"/><rect x="417.4" y="494.0" width="6.1" height="6.1"/><rect x="435.7" y="494.0" width="6.1" height="6.1"/><rect x="417.4" y="500.1" width="6.1" height="6.1"/><rect x="435.7" y="500.1" width="6.1" height="6.1"/><rect x="423.5" y="506.2" width="6.1" height="6.1"/><rect x="429.6" y="506.2" width="6.1" height="6.1"/><rect x="435.7" y="506.2" width="6.1" height="6.1"/><rect x="454.0" y="481.8" width="6.1" height="6.1"/><rect x="460.1" y="481.8" width="6.1" height="6.1"/><rect x="447.9" y="487.9" width="6.1" height="6.1"/><rect x="466.2" y="487.9" width="6.1" height="6.1"/><rect x="447.9" y="494.0" width="6.1" height="6.1"/><rect x="454.0" y="494.0" width="6.1" height="6.1"/><rect x="460.1" y="494.0" width="6.1" height="6.1"/><rect x="466.2" y="494.0" width="6.1" height="6.1"/><rect x="447.9" y="500.1" width="6.1" height="6.1"/><rect x="454.0" y="506.2" width="6.1" height="6.1"/><rect x="460.1" y="506.2" width="6.1" height="6.1"/><rect x="484.5" y="481.8" width="6.1" height="6.1"/><rect x="490.6" y="481.8" width="6.1" height="6.1"/><rect x="496.7" y="487.9" width="6.1" height="6.1"/><rect x="484.5" y="494.0" width="6.1" height="6.1"/><rect x="490.6" y="494.0" width="6.1" height="6.1"/><rect x="496.7" y="494.0" width="6.1" height="6.1"/><rect x="478.4" y="500.1" width="6.1" height="6.1"/><rect x="496.7" y="500.1" width="6.1" height="6.1"/><rect x="484.5" y="506.2" width="6.1" height="6.1"/><rect x="490.6" y="506.2" width="6.1" height="6.1"/><rect x="496.7" y="506.2" width="6.1" height="6.1"/><rect x="508.9" y="469.6" width="6.1" height="6.1"/><rect x="515.0" y="469.6" width="6.1" height="6.1"/><rect x="515.0" y="475.7" width="6.1" height="6.1"/><rect x="515.0" y="481.8" width="6.1" height="6.1"/><rect x="515.0" y="487.9" width="6.1" height="6.1"/><rect x="515.0" y="494.0" width="6.1" height="6.1"/><rect x="515.0" y="500.1" width="6.1" height="6.1"/><rect x="515.0" y="506.2" width="6.1" height="6.1"/><rect x="533.3" y="469.6" width="6.1" height="6.1"/><rect x="527.2" y="481.8" width="6.1" height="6.1"/><rect x="533.3" y="481.8" width="6.1" height="6.1"/><rect x="533.3" y="487.9" width="6.1" height="6.1"/><rect x="533.3" y="494.0" width="6.1" height="6.1"/><rect x="533.3" y="500.1" width="6.1" height="6.1"/><rect x="533.3" y="506.2" width="6.1" height="6.1"/><rect x="551.6" y="481.8" width="6.1" height="6.1"/><rect x="557.7" y="481.8" width="6.1" height="6.1"/><rect x="563.8" y="481.8" width="6.1" height="6.1"/><rect x="545.5" y="487.9" width="6.1" height="6.1"/><rect x="551.6" y="494.0" width="6.1" height="6.1"/><rect x="557.7" y="494.0" width="6.1" height="6.1"/><rect x="563.8" y="500.1" width="6.1" height="6.1"/><rect x="545.5" y="506.2" width="6.1" height="6.1"/><rect x="551.6" y="506.2" width="6.1" height="6.1"/><rect x="557.7" y="506.2" width="6.1" height="6.1"/><rect x="582.1" y="469.6" width="6.1" height="6.1"/><rect x="582.1" y="475.7" width="6.1" height="6.1"/><rect x="576.0" y="481.8" width="6.1" height="6.1"/><rect x="582.1" y="481.8" width="6.1" height="6.1"/><rect x="588.2" y="481.8" width="6.1" height="6.1"/><rect x="582.1" y="487.9" width="6.1" height="6.1"/><rect x="582.1" y="494.0" width="6.1" height="6.1"/><rect x="582.1" y="500.1" width="6.1" height="6.1"/><rect x="588.2" y="506.2" width="6.1" height="6.1"/><rect x="606.5" y="481.8" width="6.1" height="6.1"/><rect x="612.6" y="481.8" width="6.1" height="6.1"/><rect x="618.7" y="487.9" width="6.1" height="6.1"/><rect x="606.5" y="494.0" width="6.1" height="6.1"/><rect x="612.6" y="494.0" width="6.1" height="6.1"/><rect x="618.7" y="494.0" width="6.1" height="6.1"/><rect x="600.4" y="500.1" width="6.1" height="6.1"/><rect x="618.7" y="500.1" width="6.1" height="6.1"/><rect x="606.5" y="506.2" width="6.1" height="6.1"/><rect x="612.6" y="506.2" width="6.1" height="6.1"/><rect x="618.7" y="506.2" width="6.1" height="6.1"/></g>
</svg>
</body></html>
